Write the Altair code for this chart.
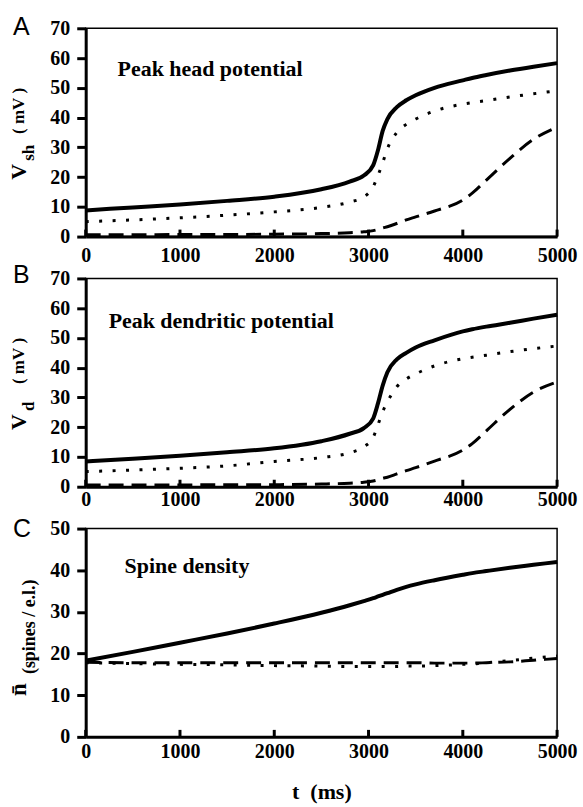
import altair as alt
import pandas as pd

# ---- data ----
t = [0, 500, 1000, 1500, 2000, 2500, 2800, 2950, 3050, 3100, 3150, 3200, 3300,
     3400, 3500, 3700, 4000, 4100, 4250, 4500, 4750, 5000]

a_solid = [8.8, 9.8, 10.8, 12.0, 13.4, 15.9, 18.5, 20.5, 24.0, 29.0, 35.5, 39.5,
           43.5, 45.8, 47.5, 50.0, 52.5, 53.3, 54.3, 55.8, 57.1, 58.3]
a_dotted = [5.0, 5.6, 6.3, 7.2, 8.3, 9.8, 11.6, 13.3, 16.8, 20.5, 24.8, 29.5,
            35.0, 37.7, 39.5, 42.2, 44.5, 45.0, 45.7, 46.9, 48.0, 49.0]
a_dashed = [0.6, 0.6, 0.7, 0.7, 0.8, 1.0, 1.3, 1.6, 2.0, 2.4, 2.9, 3.3,
            4.4, 5.6, 6.6, 8.6, 12.3, 14.6, 19.0, 26.3, 32.7, 36.8]

b_solid = [8.5, 9.4, 10.4, 11.6, 12.9, 15.3, 17.8, 19.7, 23.0, 28.0, 34.0, 38.5,
           42.8, 45.0, 46.8, 49.2, 52.2, 52.9, 53.8, 55.1, 56.5, 57.8]
b_dotted = [5.1, 5.6, 6.2, 7.0, 8.5, 9.8, 11.4, 13.4, 16.6, 20.8, 25.2, 28.5,
            33.6, 36.2, 37.9, 40.6, 43.0, 43.5, 44.2, 45.4, 46.4, 47.3]
b_dashed = [0.6, 0.6, 0.6, 0.7, 0.7, 0.9, 1.2, 1.5, 1.9, 2.3, 2.8, 3.2,
            4.3, 5.4, 6.4, 8.6, 12.3, 14.5, 18.8, 26.0, 31.8, 35.2]

c_solid = [18.3, 20.4, 22.6, 24.8, 27.2, 29.8, 31.6, 32.6, 33.3, 33.7, 34.1, 34.5,
           35.3, 36.0, 36.6, 37.6, 38.9, 39.3, 39.8, 40.6, 41.3, 42.0]
c_dotted = [17.8, 17.6, 17.4, 17.3, 17.1, 17.0, 16.9, 16.9, 16.9, 16.9, 16.9, 16.9,
            16.9, 17.0, 17.0, 17.1, 17.4, 17.5, 17.8, 18.3, 18.9, 19.4]
c_dashed = [17.9, 17.8, 17.8, 17.8, 17.8, 17.8, 17.8, 17.8, 17.8, 17.8, 17.8, 17.8,
            17.8, 17.8, 17.8, 17.7, 17.7, 17.7, 17.8, 18.0, 18.4, 18.8]

x_ticks = [0, 1000, 2000, 3000, 4000, 5000]
yticks_v = [0, 10, 20, 30, 40, 50, 60, 70]
yticks_n = [0, 10, 20, 30, 40, 50]

W, H = 473, 209
SERIF = "Liberation Serif"
SANS = "Liberation Sans"


def one_row():
    return pd.DataFrame({"k": [0]})


def text(s, x, y, size, font=SERIF, weight="bold", angle=0):
    kw = dict(text=s, align="left", baseline="alphabetic", font=font,
              fontSize=size, fontWeight=weight, color="black")
    if angle:
        kw["angle"] = angle
    return alt.Chart(one_row()).mark_text(**kw).encode(x=alt.value(x), y=alt.value(y))


def anchor(y):
    # invisible rule fixing the outer bounds of the figure
    return alt.Chart(one_row()).mark_rule(opacity=0, strokeWidth=0.1).encode(
        x=alt.value(-85), x2=alt.value(W + 25), y=alt.value(y))


def panel(solid, dotted, dashed, ymax, yticks, label, label_y, title, tx, ty,
          ytitle_marks, lab_pad, xtitle=None, extra=None):
    df = pd.DataFrame({"t": t, "solid": solid, "dotted": dotted, "dashed": dashed})
    xaxis = dict(values=x_ticks, ticks=False, labelPadding=lab_pad, labelFlush=False,
                 grid=False, format="d")
    if xtitle:
        xaxis.update(title=xtitle, titleFont=SERIF, titleFontSize=22,
                     titleFontWeight="bold", titlePadding=20, titleColor="black")
    else:
        xaxis["title"] = None
    xenc = alt.X("t:Q", scale=alt.Scale(domain=[0, 5000], nice=False),
                 axis=alt.Axis(**xaxis))
    yaxis = alt.Axis(values=yticks, title=None, tickSize=9, labelPadding=7, grid=False)

    def line(col, width, dash=None):
        kw = dict(color="black", strokeWidth=width, interpolate="monotone",
                  strokeCap="butt")
        if dash:
            kw["strokeDash"] = dash
        return alt.Chart(df).mark_line(**kw).encode(
            x=xenc,
            y=alt.Y(f"{col}:Q", scale=alt.Scale(domain=[0, ymax], nice=False),
                    axis=yaxis))

    ticks = alt.Chart(pd.DataFrame({"t": x_ticks})).mark_rule(
        color="black", strokeWidth=3).encode(
        x=xenc, y=alt.value(H), y2=alt.value(H - 7))

    layers = [line("dashed", 3, [15, 8]), line("dotted", 3, [3, 10.5]),
              line("solid", 4), ticks,
              text(label, -73, label_y, 25, font=SANS, weight="normal"),
              text(title, tx, ty, 22)]
    layers += ytitle_marks
    if extra is not None:
        layers.append(extra)
    return alt.layer(*layers).properties(width=W, height=H)


def vtitle(sub):
    return [text("V", -60, 152, 22, angle=270),
            text(sub, -52, 133, 17, angle=270),
            text("(\u00a0mV\u00a0)", -62, 106, 17, angle=270)]


pa = panel(a_solid, a_dotted, a_dashed, 70, yticks_v, "A", 7,
           "Peak head potential", 32, 48, vtitle("sh"), 9, extra=anchor(-26))
pb = panel(b_solid, b_dotted, b_dashed, 70, yticks_v, "B", 5,
           "Peak dendritic potential", 23, 50, vtitle("d"), 3)
pc = panel(c_solid, c_dotted, c_dashed, 50, yticks_n, "C", 8,
           "Spine density", 39, 45,
           [text("n\u0304", -60, 168, 23, angle=270),
            text("(spines / e.l.)", -51, 146, 18, angle=270)], 5,
           xtitle="t\u00a0\u00a0(ms)", extra=anchor(H + 70))

chart = alt.vconcat(pa, pb, pc, spacing=42, bounds="flush").properties(
    padding=0, background="white",
).configure_view(stroke="black", strokeWidth=1.5).configure_axis(
    domainColor="black", domainWidth=3, tickColor="black", tickWidth=3,
    labelColor="black", labelFont=SERIF, labelFontWeight="bold", labelFontSize=20,
)

chart.save("out.html", embed_options={"renderer": "svg", "actions": False})
